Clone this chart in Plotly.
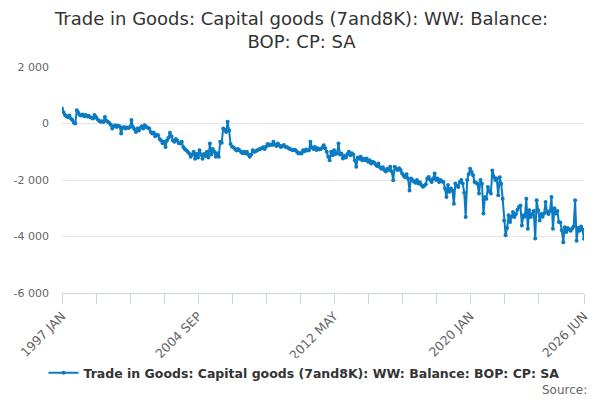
import plotly.graph_objects as go

years = list(range(1997, 2027))
month_names = ["JAN", "FEB", "MAR", "APR", "MAY", "JUN", "JUL", "AUG", "SEP", "OCT", "NOV", "DEC"]

values = [
    # 1997
    530, 400, 300, 260, 220, 280, 180, 120, 30, 0, 470, 380,
    # 1998
    300, 280, 320, 260, 300, 250, 270, 220, 200, 180, 300, 230,
    # 1999
    150, 100, 60, 80, 50, 230, 100, 60, 20, -40, -180, -100,
    # 2000
    -60, -120, -80, -100, -350, -150, -120, -180, -140, -160, -120, 120,
    # 2001
    -120, -200, -300, -180, -250, -150, -100, -180, -60, -120, -150, -180,
    # 2002
    -300, -350, -320, -450, -400, -420, -550, -600, -700, -650, -830, -600,
    # 2003
    -500, -330, -450, -600, -650, -550, -600, -700, -710, -650, -830, -900,
    # 2004
    -950, -1000, -1060, -1180, -1100, -1000, -1250, -1070, -1200, -950, -1100, -1250,
    # 2005
    -1080, -1150, -1000, -1200, -710, -1100, -900, -1000, -1180, -1050, -1180, -650,
    # 2006
    -680, -180, -220, -300, 60, -250, -730, -820, -850, -900, -960, -900,
    # 2007
    -950, -1000, -1050, -1000, -1060, -1000, -1100, -1180, -1100, -950, -1000, -980,
    # 2008
    -950, -920, -900, -880, -840, -900, -820, -730, -770, -740, -760, -650,
    # 2009
    -750, -800, -710, -780, -830, -800, -760, -820, -830, -870, -900, -920,
    # 2010
    -950, -930, -950, -1010, -1060, -1040, -1060, -950, -980, -920, -960, -950,
    # 2011
    -650, -850, -900, -830, -940, -880, -920, -900, -860, -770, -880, -1000,
    # 2012
    -1180, -1300, -1000, -1120, -950, -1080, -1050, -710, -1100, -1060, -1240, -1150,
    # 2013
    -1200, -1080, -1000, -1120, -1050, -1100, -1300, -1530, -1200, -1250, -1180, -1300,
    # 2014
    -1250, -1300, -1240, -1350, -1300, -1420, -1350, -1380, -1450, -1500, -1420, -1550,
    # 2015
    -1600, -1550, -1650, -1700, -1600, -1650, -1530, -1700, -2010, -1530, -1600, -1650,
    # 2016
    -1580, -1650, -1770, -1850, -1900, -1800, -1950, -2370, -1950, -2000, -2050, -2100,
    # 2017
    -2000, -2120, -2080, -2180, -2240, -2200, -2150, -1950, -1890, -2000, -2070, -1950,
    # 2018
    -1770, -2000, -1950, -2070, -2000, -2050, -2070, -2300, -2600, -2180, -2420, -2300,
    # 2019
    -2370, -2840, -2120, -2200, -2250, -2070, -2000, -2120, -2450, -3310, -2000, -1800,
    # 2020
    -1600, -1720, -1830, -2070, -2100, -2130, -2480, -2000, -2130, -3190, -2600, -2660,
    # 2021
    -2250, -2400, -2480, -1660, -1890, -2000, -1950, -2540, -1900, -2130, -2660, -3430,
    # 2022
    -3960, -3700, -3250, -3490, -3300, -3130, -3310, -3200, -3050, -2960, -2900, -3610,
    # 2023
    -3250, -3300, -2660, -3730, -3070, -3310, -3200, -3100, -4070, -2720, -3070, -3430,
    # 2024
    -3200, -3300, -3190, -2780, -3130, -3200, -3100, -2600, -3730, -3000, -3190, -3100,
    # 2025
    -3490, -3500, -3780, -4200, -3670, -3840, -3700, -3750, -3800, -3720, -3650, -2720,
    # 2026
    -4150, -3700, -3800, -3650, -3750, -4080,
]

categories = [f"{y} {m}" for y in years for m in month_names][:len(values)]

tick_idx = list(range(0, 345, 23)) + [len(categories) - 1]
label_idx = [0, 92, 184, 276, len(categories) - 1]
tick_vals = [categories[i] for i in tick_idx]
tick_text = [categories[i] if i in label_idx else "" for i in tick_idx]

y_tick_vals = [-6000, -4000, -2000, 0, 2000]
y_tick_text = ["-6 000", "-4 000", "-2 000", "0", "2 000"]

title_text = "Trade in Goods: Capital goods (7and8K): WW: Balance:<br>BOP: CP: SA"
series_name = "Trade in Goods: Capital goods (7and8K): WW: Balance: BOP: CP: SA"
color = "#0b7bc1"

fig = go.Figure()
fig.add_trace(go.Scatter(
    x=categories, y=values, mode="lines+markers", name=series_name,
    line=dict(color=color, width=2),
    marker=dict(color=color, size=4),
))

fig.update_layout(
    width=600, height=400,
    paper_bgcolor="white", plot_bgcolor="white",
    font=dict(family="DejaVu Sans", color="#666666", size=11),
    margin=dict(l=54, r=24, t=59, b=115, autoexpand=False),
    showlegend=True,
    legend=dict(
        orientation="h", x=0.4636, xanchor="center", y=-0.354, yanchor="middle",
        font=dict(family="DejaVu Sans", size=12.5, color="#333333", weight="bold"),
    ),
    xaxis=dict(
        type="category", range=[0, len(categories) - 1], automargin=False,
        tickmode="array", tickvals=tick_vals, ticktext=tick_text,
        tickangle=-45, ticks="outside", ticklen=10, tickcolor="#ccd6eb",
        showline=True, linecolor="#ccd6eb", linewidth=1,
        showgrid=False, zeroline=False,
        tickfont=dict(size=12.5, color="#666666"),
    ),
    yaxis=dict(
        range=[-6000, 2000], tickmode="array", automargin=False,
        tickvals=y_tick_vals, ticktext=y_tick_text,
        showgrid=True, gridcolor="#e6e6e6", gridwidth=1,
        zeroline=False, showline=False, ticks="",
        ticklabelstandoff=12,
        tickfont=dict(size=11, color="#666666"),
    ),
    annotations=[
        dict(
            text=title_text, xref="paper", yref="paper", x=0.458, y=1.164,
            xanchor="center", yanchor="middle", showarrow=False,
            font=dict(family="DejaVu Sans", size=18, color="#333333"),
        ),
        dict(
            text="Source:", xref="paper", yref="paper", x=1.0096, y=-0.429,
            xanchor="right", yanchor="middle", showarrow=False,
            font=dict(family="DejaVu Sans", size=12, color="#666666"),
        ),
    ],
)

fig.write_html("out.html")
